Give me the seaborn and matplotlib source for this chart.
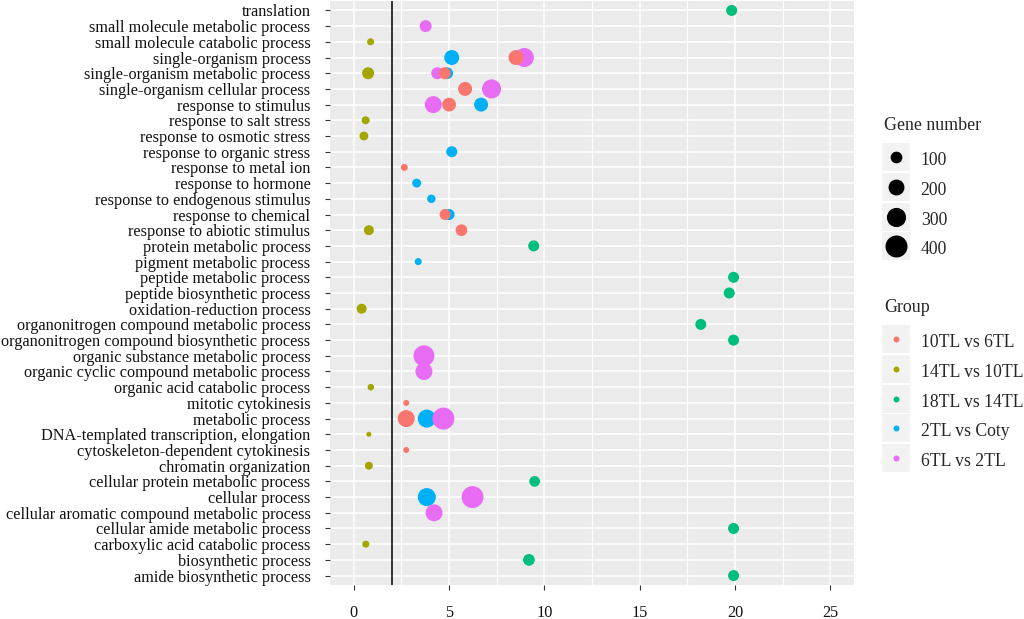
import numpy as np
import pandas as pd
import seaborn as sns
import matplotlib.pyplot as plt
from matplotlib.lines import Line2D
from matplotlib.ticker import MultipleLocator

# GO terms, top to bottom
terms = [
    'translation', 'small molecule metabolic process', 'small molecule catabolic process',
    'single-organism process', 'single-organism metabolic process',
    'single-organism cellular process', 'response to stimulus', 'response to salt stress',
    'response to osmotic stress', 'response to organic stress', 'response to metal ion',
    'response to hormone', 'response to endogenous stimulus', 'response to chemical',
    'response to abiotic stimulus', 'protein metabolic process', 'pigment metabolic process',
    'peptide metabolic process', 'peptide biosynthetic process', 'oxidation-reduction process',
    'organonitrogen compound metabolic process', 'organonitrogen compound biosynthetic process',
    'organic substance metabolic process', 'organic cyclic compound metabolic process',
    'organic acid catabolic process', 'mitotic cytokinesis', 'metabolic process',
    'DNA-templated transcription, elongation', 'cytoskeleton-dependent cytokinesis',
    'chromatin organization', 'cellular protein metabolic process', 'cellular process',
    'cellular aromatic compound metabolic process', 'cellular amide metabolic process',
    'carboxylic acid catabolic process', 'biosynthetic process', 'amide biosynthetic process',
]

groups = ['10TL vs 6TL', '14TL vs 10TL', '18TL vs 14TL', '2TL vs Coty', '6TL vs 2TL']
colors = ['#F8766D', '#A3A500', '#00BF7D', '#00B0F6', '#E76BF3']

# 10TL vs 6TL
red_terms = ['single-organism process', 'single-organism metabolic process',
             'single-organism cellular process', 'response to stimulus', 'response to metal ion',
             'response to chemical', 'response to abiotic stimulus', 'mitotic cytokinesis',
             'metabolic process', 'cytoskeleton-dependent cytokinesis']
red_x = [8.51, 4.77, 5.84, 5.0, 2.65, 4.79, 5.65, 2.75, 2.75, 2.75]
red_n = [175, 105, 150, 145, 24, 86, 100, 12, 230, 12]

# 14TL vs 10TL
olive_terms = ['small molecule catabolic process', 'single-organism metabolic process',
               'response to salt stress', 'response to osmotic stress',
               'response to abiotic stimulus', 'oxidation-reduction process',
               'organic acid catabolic process', 'DNA-templated transcription, elongation',
               'chromatin organization', 'carboxylic acid catabolic process']
olive_x = [0.88, 0.75, 0.62, 0.53, 0.79, 0.41, 0.89, 0.79, 0.79, 0.63]
olive_n = [24, 105, 36, 50, 68, 68, 18, 3, 36, 24]

# 18TL vs 14TL
green_terms = ['translation', 'protein metabolic process', 'peptide metabolic process',
               'peptide biosynthetic process', 'organonitrogen compound metabolic process',
               'organonitrogen compound biosynthetic process',
               'cellular protein metabolic process', 'cellular amide metabolic process',
               'biosynthetic process', 'amide biosynthetic process']
green_x = [19.83, 9.44, 19.93, 19.7, 18.21, 19.93, 9.49, 19.93, 9.19, 19.93]
green_n = [86, 86, 86, 86, 86, 86, 80, 86, 100, 86]

# 2TL vs Coty
blue_terms = ['single-organism process', 'single-organism metabolic process',
              'response to stimulus', 'response to organic stress', 'response to hormone',
              'response to endogenous stimulus', 'response to chemical',
              'pigment metabolic process', 'metabolic process', 'cellular process']
blue_x = [5.14, 4.9, 6.68, 5.14, 3.3, 4.07, 5.0, 3.38, 3.83, 3.83]
blue_n = [175, 100, 150, 86, 50, 43, 86, 24, 262, 262]

# 6TL vs 2TL
pink_terms = ['small molecule metabolic process', 'single-organism process',
              'single-organism metabolic process', 'single-organism cellular process',
              'response to stimulus', 'organic substance metabolic process',
              'organic cyclic compound metabolic process', 'metabolic process',
              'cellular process', 'cellular aromatic compound metabolic process']
pink_x = [3.77, 8.95, 4.38, 7.23, 4.17, 3.68, 3.68, 4.7, 6.23, 4.21]
pink_n = [105, 293, 105, 293, 230, 360, 230, 400, 395, 230]

size_legend = [100, 200, 300, 400]

# build table; rows ordered so overlapping points stack like the original
parts = []
for g, t, x, n in [(groups[3], blue_terms, blue_x, blue_n),
                   (groups[4], pink_terms, pink_x, pink_n),
                   (groups[1], olive_terms, olive_x, olive_n),
                   (groups[2], green_terms, green_x, green_n),
                   (groups[0], red_terms, red_x, red_n)]:
    parts.append(pd.DataFrame({'term': t, 'value': x, 'Gene number': n, 'Group': g}))
df = pd.concat(parts, ignore_index=True)
df['term'] = pd.Categorical(df['term'], categories=terms, ordered=True)

sns.set_theme(style='darkgrid', rc={
    'axes.facecolor': '#EBEBEB', 'grid.color': 'white',
    'axes.edgecolor': '#EBEBEB', 'axes.linewidth': 0,
})
plt.rcParams['font.family'] = ['Liberation Serif', 'DejaVu Serif']

fig = plt.figure(figsize=(10.24, 6.19), dpi=100)
ax = fig.add_axes([330 / 1024, 34 / 619, 524 / 1024, 584 / 619])

s_min, s_max = 13, 251
n_min, n_max = 3, 400
sns.scatterplot(data=df, x='value', y='term', hue='Group', hue_order=groups,
                palette=colors, size='Gene number', sizes=(s_min, s_max),
                size_norm=(n_min, n_max), linewidth=0, alpha=1, legend=False, ax=ax)

ax.axvline(2, color='black', lw=1.1, zorder=1.5)

ax.set_xlim(-1.25, 26.25)
ax.set_ylim(len(terms) - 0.4, -0.6)
ax.xaxis.set_major_locator(MultipleLocator(5))
ax.xaxis.set_minor_locator(MultipleLocator(2.5))
ax.grid(which='major', color='white', lw=1.1)
ax.grid(which='minor', axis='x', color='white', lw=0.8)
ax.set_xlabel('')
ax.set_ylabel('')
ax.tick_params(axis='both', which='major', bottom=True, left=True, length=3.6, width=0.8,
               color='#333333', pad=10.5, labelsize=11.7, labelcolor='#111111')
ax.tick_params(axis='x', which='minor', length=0)
ax.tick_params(axis='x', labelsize=11.7)
for sp in ax.spines.values():
    sp.set_visible(False)

# legends
key_bg = dict(marker='s', ls='', color='#F2F2F2', markersize=19.5, mew=0)
leg_kw = dict(loc='upper left', frameon=False, fontsize=12.7, title_fontsize=12.9,
              borderpad=0, handlelength=1.4, handleheight=1.4, labelspacing=0.525,
              handletextpad=0.68, borderaxespad=0)

size_handles = []
for v in size_legend:
    area = s_min + (v - n_min) / (n_max - n_min) * (s_max - s_min)
    dot = Line2D([], [], marker='o', ls='', color='black', markersize=np.sqrt(area), mew=0)
    size_handles.append((Line2D([], [], **key_bg), dot))
leg1 = fig.legend(size_handles, [str(v) for v in size_legend], title='Gene number',
                  bbox_to_anchor=(884 / 1024, 1 - 117 / 619), **leg_kw)
leg1._legend_box.align = 'left'
leg1._legend_box.sep = 11.0

group_handles = []
for c in colors:
    dot = Line2D([], [], marker='o', ls='', color=c, markersize=4.3, mew=0)
    group_handles.append((Line2D([], [], **key_bg), dot))
leg2 = fig.legend(group_handles, groups, title='Group',
                  bbox_to_anchor=(884 / 1024, 1 - 299 / 619), **leg_kw)
leg2._legend_box.align = 'left'
leg2._legend_box.sep = 11.0

fig.savefig('out.png', dpi=100)
